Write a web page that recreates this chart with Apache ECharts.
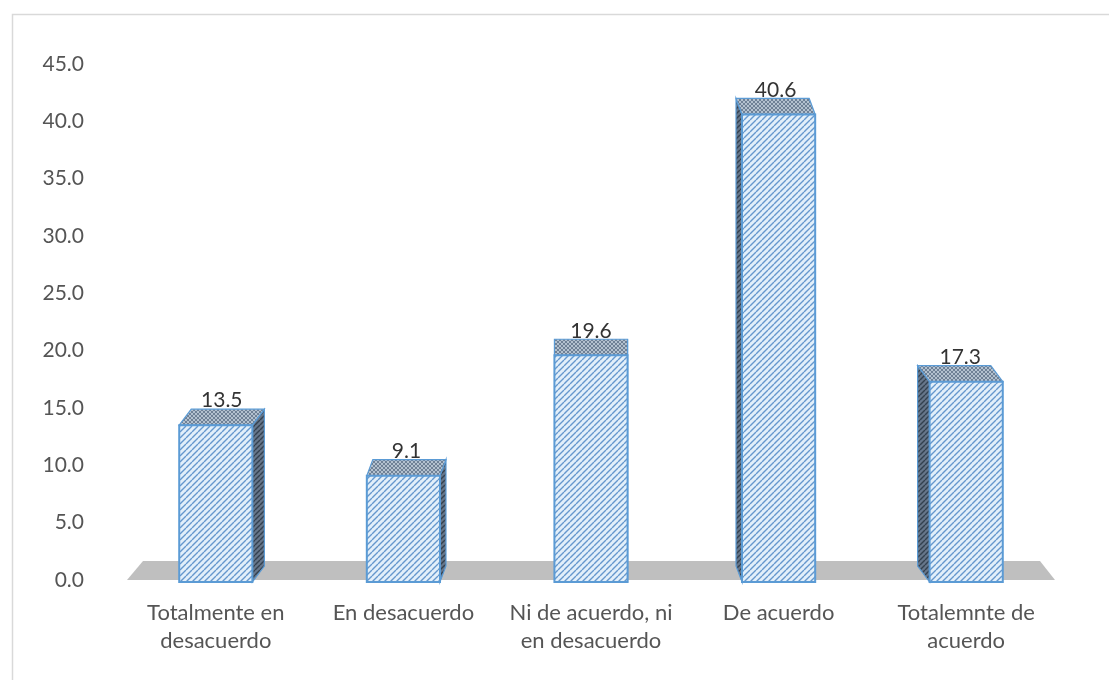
<!DOCTYPE html>
<html>
<head>
<meta charset="utf-8">
<script src="https://cdn.jsdelivr.net/npm/echarts@6/dist/echarts.min.js"></script>
<style>
  html, body { margin: 0; padding: 0; background: #ffffff; }
  #chart { width: 1109px; height: 680px; }
</style>
</head>
<body>
<div id="chart"></div>
<script>
// Survey answers (percent of respondents)
const categories = [
  'Totalmente en\ndesacuerdo',
  'En desacuerdo',
  'Ni de acuerdo, ni\nen desacuerdo',
  'De acuerdo',
  'Totalemnte de\nacuerdo'
];
const values = [13.5, 9.1, 19.6, 40.6, 17.3];
const axisMin = 0;
const axisMax = 45;
const axisStep = 5;

const FONT = 'Lato, "Open Sans", sans-serif';

// Tiled hatch textures for the faces of the boxes
function hatch(bg, fg, size, lw, cross) {
  const c = document.createElement('canvas');
  c.width = size; c.height = size;
  const g = c.getContext('2d');
  g.fillStyle = bg;
  g.fillRect(0, 0, size, size);
  g.strokeStyle = fg;
  g.lineWidth = lw;
  g.beginPath();
  for (let k = -1; k <= 1; k++) {
    g.moveTo(k * size, size);
    g.lineTo(k * size + size, 0);
    if (cross) {
      g.moveTo(k * size, 0);
      g.lineTo(k * size + size, size);
    }
  }
  g.stroke();
  return { image: c, repeat: 'repeat' };
}

const frontFill = hatch('#e2effa', '#6597cd', 6, 1.4, false);
const sideFill = hatch('#66768a', '#34414f', 5, 1.4, false);
const topFill = hatch('#b3c1cf', '#6f8196', 4, 1, true);
const EDGE = '#5b9bd5';

function renderFloor(params, api) {
  const cs = params.coordSys;
  const y = api.coord([0, 0])[1];
  const back = y - 19;
  return {
    type: 'polygon',
    shape: {
      points: [
        [cs.x + 5, y],
        [cs.x + 21, back],
        [cs.x + cs.width - 20, back],
        [cs.x + cs.width - 5, y]
      ]
    },
    style: { fill: '#bfbfbf' },
    silent: true
  };
}

function renderBox(params, api) {
  const i = api.value(0);
  const v = api.value(1);
  const top = api.coord([i, v]);
  const base = api.coord([i, 0]);
  const cs = params.coordSys;
  const w = api.size([1, 0])[0] * 0.39;
  const mid = cs.x + cs.width / 2;
  const dx = (mid - top[0]) * 0.032;
  const dy = -16;
  const x0 = top[0] - w / 2;
  const x1 = top[0] + w / 2;
  const yT = top[1];
  const yB = base[1] + 2;
  const edgeX = dx >= 0 ? x1 : x0;

  const children = [];
  // side face
  children.push({
    type: 'polygon',
    shape: { points: [[edgeX, yT], [edgeX + dx, yT + dy], [edgeX + dx, yB + dy], [edgeX, yB]] },
    style: { fill: sideFill, stroke: EDGE, lineWidth: 1.2 }
  });
  // top face
  children.push({
    type: 'polygon',
    shape: { points: [[x0, yT], [x0 + dx, yT + dy], [x1 + dx, yT + dy], [x1, yT]] },
    style: { fill: topFill, stroke: EDGE, lineWidth: 1.2 }
  });
  // front face
  children.push({
    type: 'rect',
    shape: { x: x0, y: yT, width: w, height: yB - yT },
    style: { fill: frontFill, stroke: EDGE, lineWidth: 2 }
  });
  // value label
  children.push({
    type: 'text',
    style: {
      text: v.toFixed(1),
      x: top[0] + dx / 2,
      y: yT + dy + 2,
      align: 'center',
      verticalAlign: 'bottom',
      fill: '#333333',
      font: '21px ' + FONT
    }
  });
  return { type: 'group', children: children };
}

const chart = echarts.init(document.getElementById('chart'), null, { renderer: 'canvas' });

chart.setOption({
  backgroundColor: '#ffffff',
  animation: false,
  graphic: [{
    type: 'rect',
    left: 10, top: 12,
    shape: { width: 1200, height: 800 },
    style: { fill: 'none', stroke: '#d9d9d9', lineWidth: 1.5 },
    z: -10,
    silent: true
  }],
  grid: { left: 122, right: 49, top: 64, bottom: 100 },
  xAxis: {
    type: 'category',
    data: categories,
    axisLine: { show: false },
    axisTick: { show: false },
    splitLine: { show: false },
    axisLabel: {
      margin: 19,
      color: '#555555',
      fontFamily: FONT,
      fontSize: 22,
      lineHeight: 28,
      interval: 0
    }
  },
  yAxis: {
    type: 'value',
    min: axisMin,
    max: axisMax,
    interval: axisStep,
    axisLine: { show: false },
    axisTick: { show: false },
    splitLine: { show: false },
    axisLabel: {
      margin: 38,
      color: '#555555',
      fontFamily: FONT,
      fontSize: 21,
      formatter: v => v.toFixed(1)
    }
  },
  series: [
    {
      type: 'custom',
      name: 'floor',
      renderItem: renderFloor,
      data: [[0, 0]],
      encode: { x: 0, y: 1 },
      z: 1,
      silent: true
    },
    {
      type: 'custom',
      name: 'respuestas',
      renderItem: renderBox,
      data: values.map((v, i) => [i, v]),
      encode: { x: 0, y: 1 },
      z: 2
    }
  ]
});
</script>
</body>
</html>
